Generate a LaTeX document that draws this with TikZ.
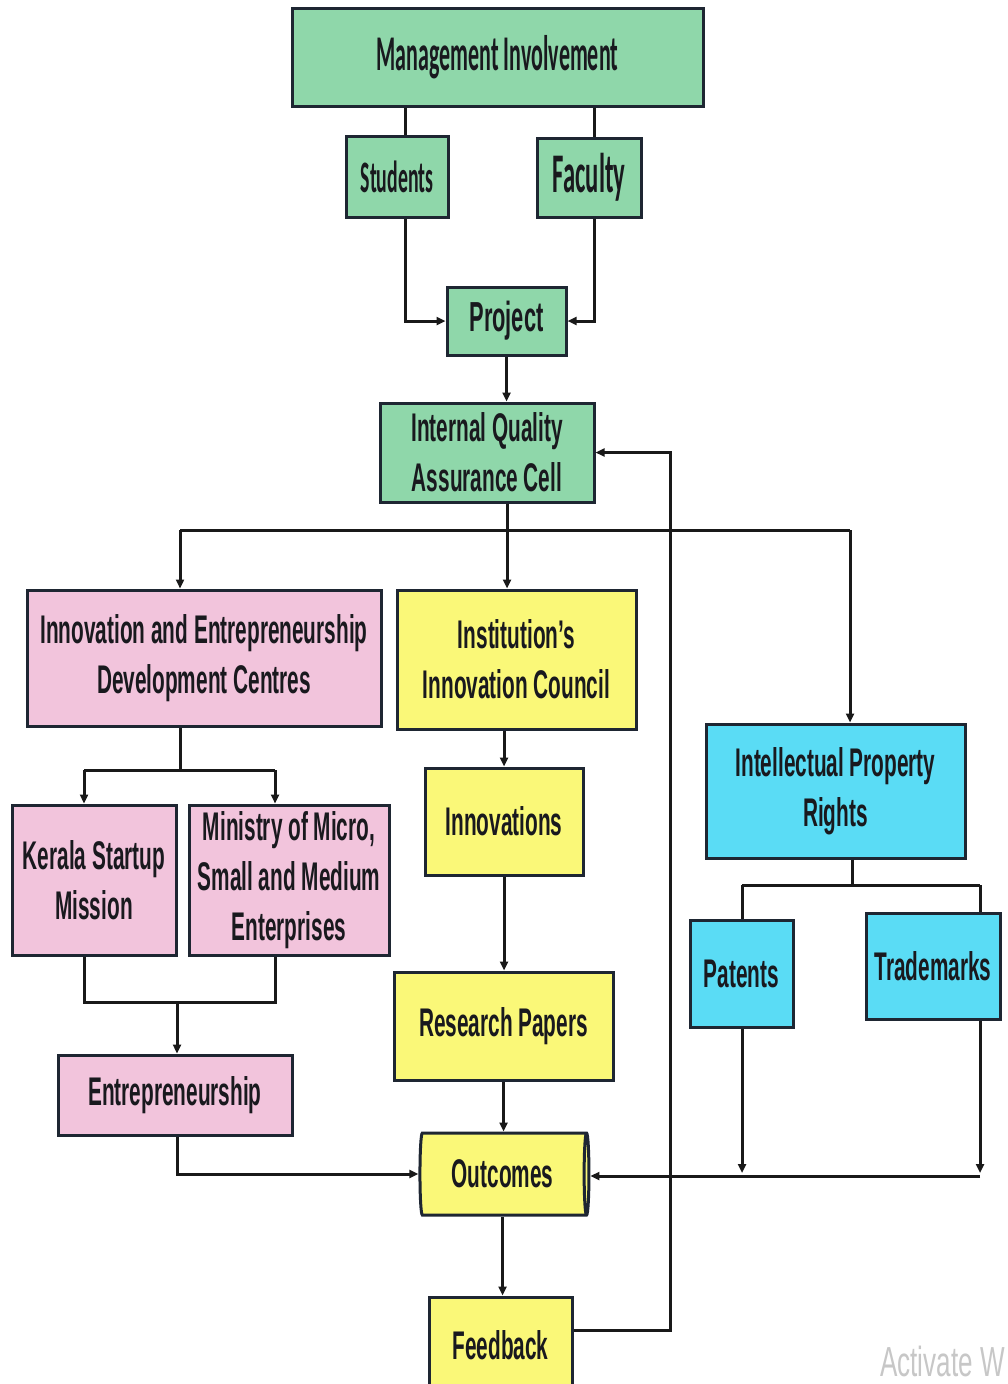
\documentclass[tikz,border=0pt]{standalone}
\usepackage{fontspec}
\usetikzlibrary{arrows.meta,shapes.geometric,calc}
\newfontfamily\cfont{Carlito}[FakeStretch=0.44]
\newfontfamily\afont{Liberation Sans}[FakeStretch=0.52]
\newfontfamily\wfont{Liberation Sans}[FakeStretch=0.62]
\definecolor{gbox}{RGB}{143,215,170}
\definecolor{pbox}{RGB}{242,196,220}
\definecolor{ybox}{RGB}{250,248,120}
\definecolor{cbox}{RGB}{90,220,245}
\definecolor{bord}{RGB}{30,38,50}
\definecolor{txt}{RGB}{25,25,30}
\begin{document}
\begin{tikzpicture}[x=1pt,y=-1pt,
  box/.style={draw=bord,line width=3pt,inner sep=0pt,align=center,text=txt},
  atext/.style={font=\afont\bfseries\fontsize{40}{50}\selectfont},
  conn/.style={line width=3pt,draw=black!90},
  arr/.style={conn,-{Triangle[length=9pt,width=8pt]}},
]
\useasboundingbox (0,0) rectangle (1008,1384);
\fill[white] (0,0) rectangle (1008,1384);

% nodes
\node[box,fill=gbox,minimum width=411pt,minimum height=98pt,font=\cfont\bfseries\fontsize{50}{50}\selectfont] (mi) at (497.5,57) {Management Involvement};
\node[box,fill=gbox,minimum width=102pt,minimum height=81pt,font=\cfont\bfseries\fontsize{45}{50}\selectfont] (stu) at (397,176.5) {Students};
\node[box,fill=gbox,minimum width=104pt,minimum height=79pt,font=\cfont\bfseries\fontsize{56}{56}\selectfont] (fac) at (589,177.5) {Faculty};
\node[box,fill=gbox,atext,minimum width=119pt,minimum height=68pt,font=\afont\bfseries\fontsize{42}{50}\selectfont] (proj) at (506.5,321) {Project};
\node[box,fill=gbox,atext,minimum width=214pt,minimum height=99pt] (iqac) at (487,452.5) {Internal Quality\\Assurance Cell};
\node[box,fill=pbox,atext,minimum width=354pt,minimum height=136pt] (iedc) at (204,658) {Innovation and Entrepreneurship\\Development Centres};
\node[box,fill=ybox,atext,minimum width=239pt,minimum height=139pt] (iic) at (516.5,659.5) {Institution’s\\Innovation Council};
\node[box,fill=pbox,atext,minimum width=164pt,minimum height=150pt] (ksm) at (94,880) {Kerala Startup\\Mission};
\node[box,fill=pbox,atext,minimum width=200pt,minimum height=150pt] (msme) at (289,880) {Ministry of Micro,\\Small and Medium\\Enterprises};
\node[box,fill=pbox,atext,minimum width=234pt,minimum height=80pt] (ent) at (175,1095) {Entrepreneurship};
\node[box,fill=ybox,atext,minimum width=158pt,minimum height=107pt] (inn) at (504,821.5) {Innovations};
\node[box,fill=ybox,atext,minimum width=219pt,minimum height=108pt] (rp) at (503.5,1026) {Research Papers};
\node[box,fill=ybox,atext,shape=cylinder,aspect=0.17,minimum width=82pt,minimum height=169pt] (out) at (502.5,1174) {Outcomes};
\node[box,fill=ybox,atext,minimum width=143pt,minimum height=96pt] (fb) at (500.5,1345) {Feedback};
\node[box,fill=cbox,atext,minimum width=259pt,minimum height=134pt] (ipr) at (835.5,791) {Intellectual Property\\Rights};
\node[box,fill=cbox,atext,minimum width=103pt,minimum height=107pt] (pat) at (741.5,973.5) {Patents};
\node[box,fill=cbox,atext,minimum width=134pt,minimum height=106pt] (tm) at (933,966) {Trademarks};
\node[anchor=base east,text=black!22,font=\wfont\fontsize{42}{50}\selectfont,inner sep=0pt] (wm) at (1005,1376) {Activate W};

% coordinates
\coordinate (sx) at (405,0);
\coordinate (fx) at (594,0);
\coordinate (ja) at (507,530);
\coordinate (jl) at (180,530);
\coordinate (jr) at (850,530);
\coordinate (fbc) at (670,1330);
\coordinate (km) at (180,770);
\coordinate (kl) at (84,770);
\coordinate (kr) at (275,770);
\coordinate (bl) at (84,1002);
\coordinate (br) at (275,1002);
\coordinate (bm) at (177,1002);
\coordinate (pm) at (852,885);
\coordinate (pl) at (742,885);
\coordinate (pr) at (980,885);
\coordinate (oy) at (0,1176);

% connectors
\draw[conn] (mi.south -| sx) -- (stu.north -| sx);
\draw[conn] (mi.south -| fx) -- (fac.north -| fx);
\draw[arr] (stu.south -| sx) |- (proj.west);
\draw[arr] (fac.south -| fx) |- (proj.east);
\draw[arr] (proj.south) -- (proj.south |- iqac.north);
\draw[arr] (iqac.south -| ja) -- (iic.north -| ja);
\draw[conn] (jl) -- (jr);
\draw[arr] (jl) -- (jl |- iedc.north);
\draw[arr] (jr) -- (jr |- ipr.north);
\draw[arr] (fb.east |- fbc) -- (fbc) |- (iqac.east);
\draw[conn] (iedc.south -| km) -- (km);
\draw[conn] (kl) -- (kr);
\draw[arr] (kl) -- (kl |- ksm.north);
\draw[arr] (kr) -- (kr |- msme.north);
\draw[conn] (ksm.south -| bl) -- (bl) -- (br) -- (msme.south -| br);
\draw[arr] (bm) -- (bm |- ent.north);
\draw[arr] (ent.south -| bm) |- (out.west);
\draw[arr] (iic.south -| inn.north) -- (inn.north);
\draw[arr] (inn.south) -- (inn.south |- rp.north);
\draw[arr] (rp.south) -- (rp.south |- out.north);
\draw[arr] (out.south) -- (out.south |- fb.north);
\draw[conn] (ipr.south -| pm) -- (pm);
\draw[conn] (pl) -- (pr);
\draw[conn] (pl) -- (pl |- pat.north);
\draw[conn] (pr) -- (pr |- tm.north);
\draw[arr] (pat.south -| pl) -- ($(pl |- oy)+(0,-3)$);
\draw[arr] (tm.south -| pr) -- ($(pr |- oy)+(0,-3)$);
\draw[arr] (pr |- oy) -- (out.east |- oy);
\end{tikzpicture}
\end{document}
